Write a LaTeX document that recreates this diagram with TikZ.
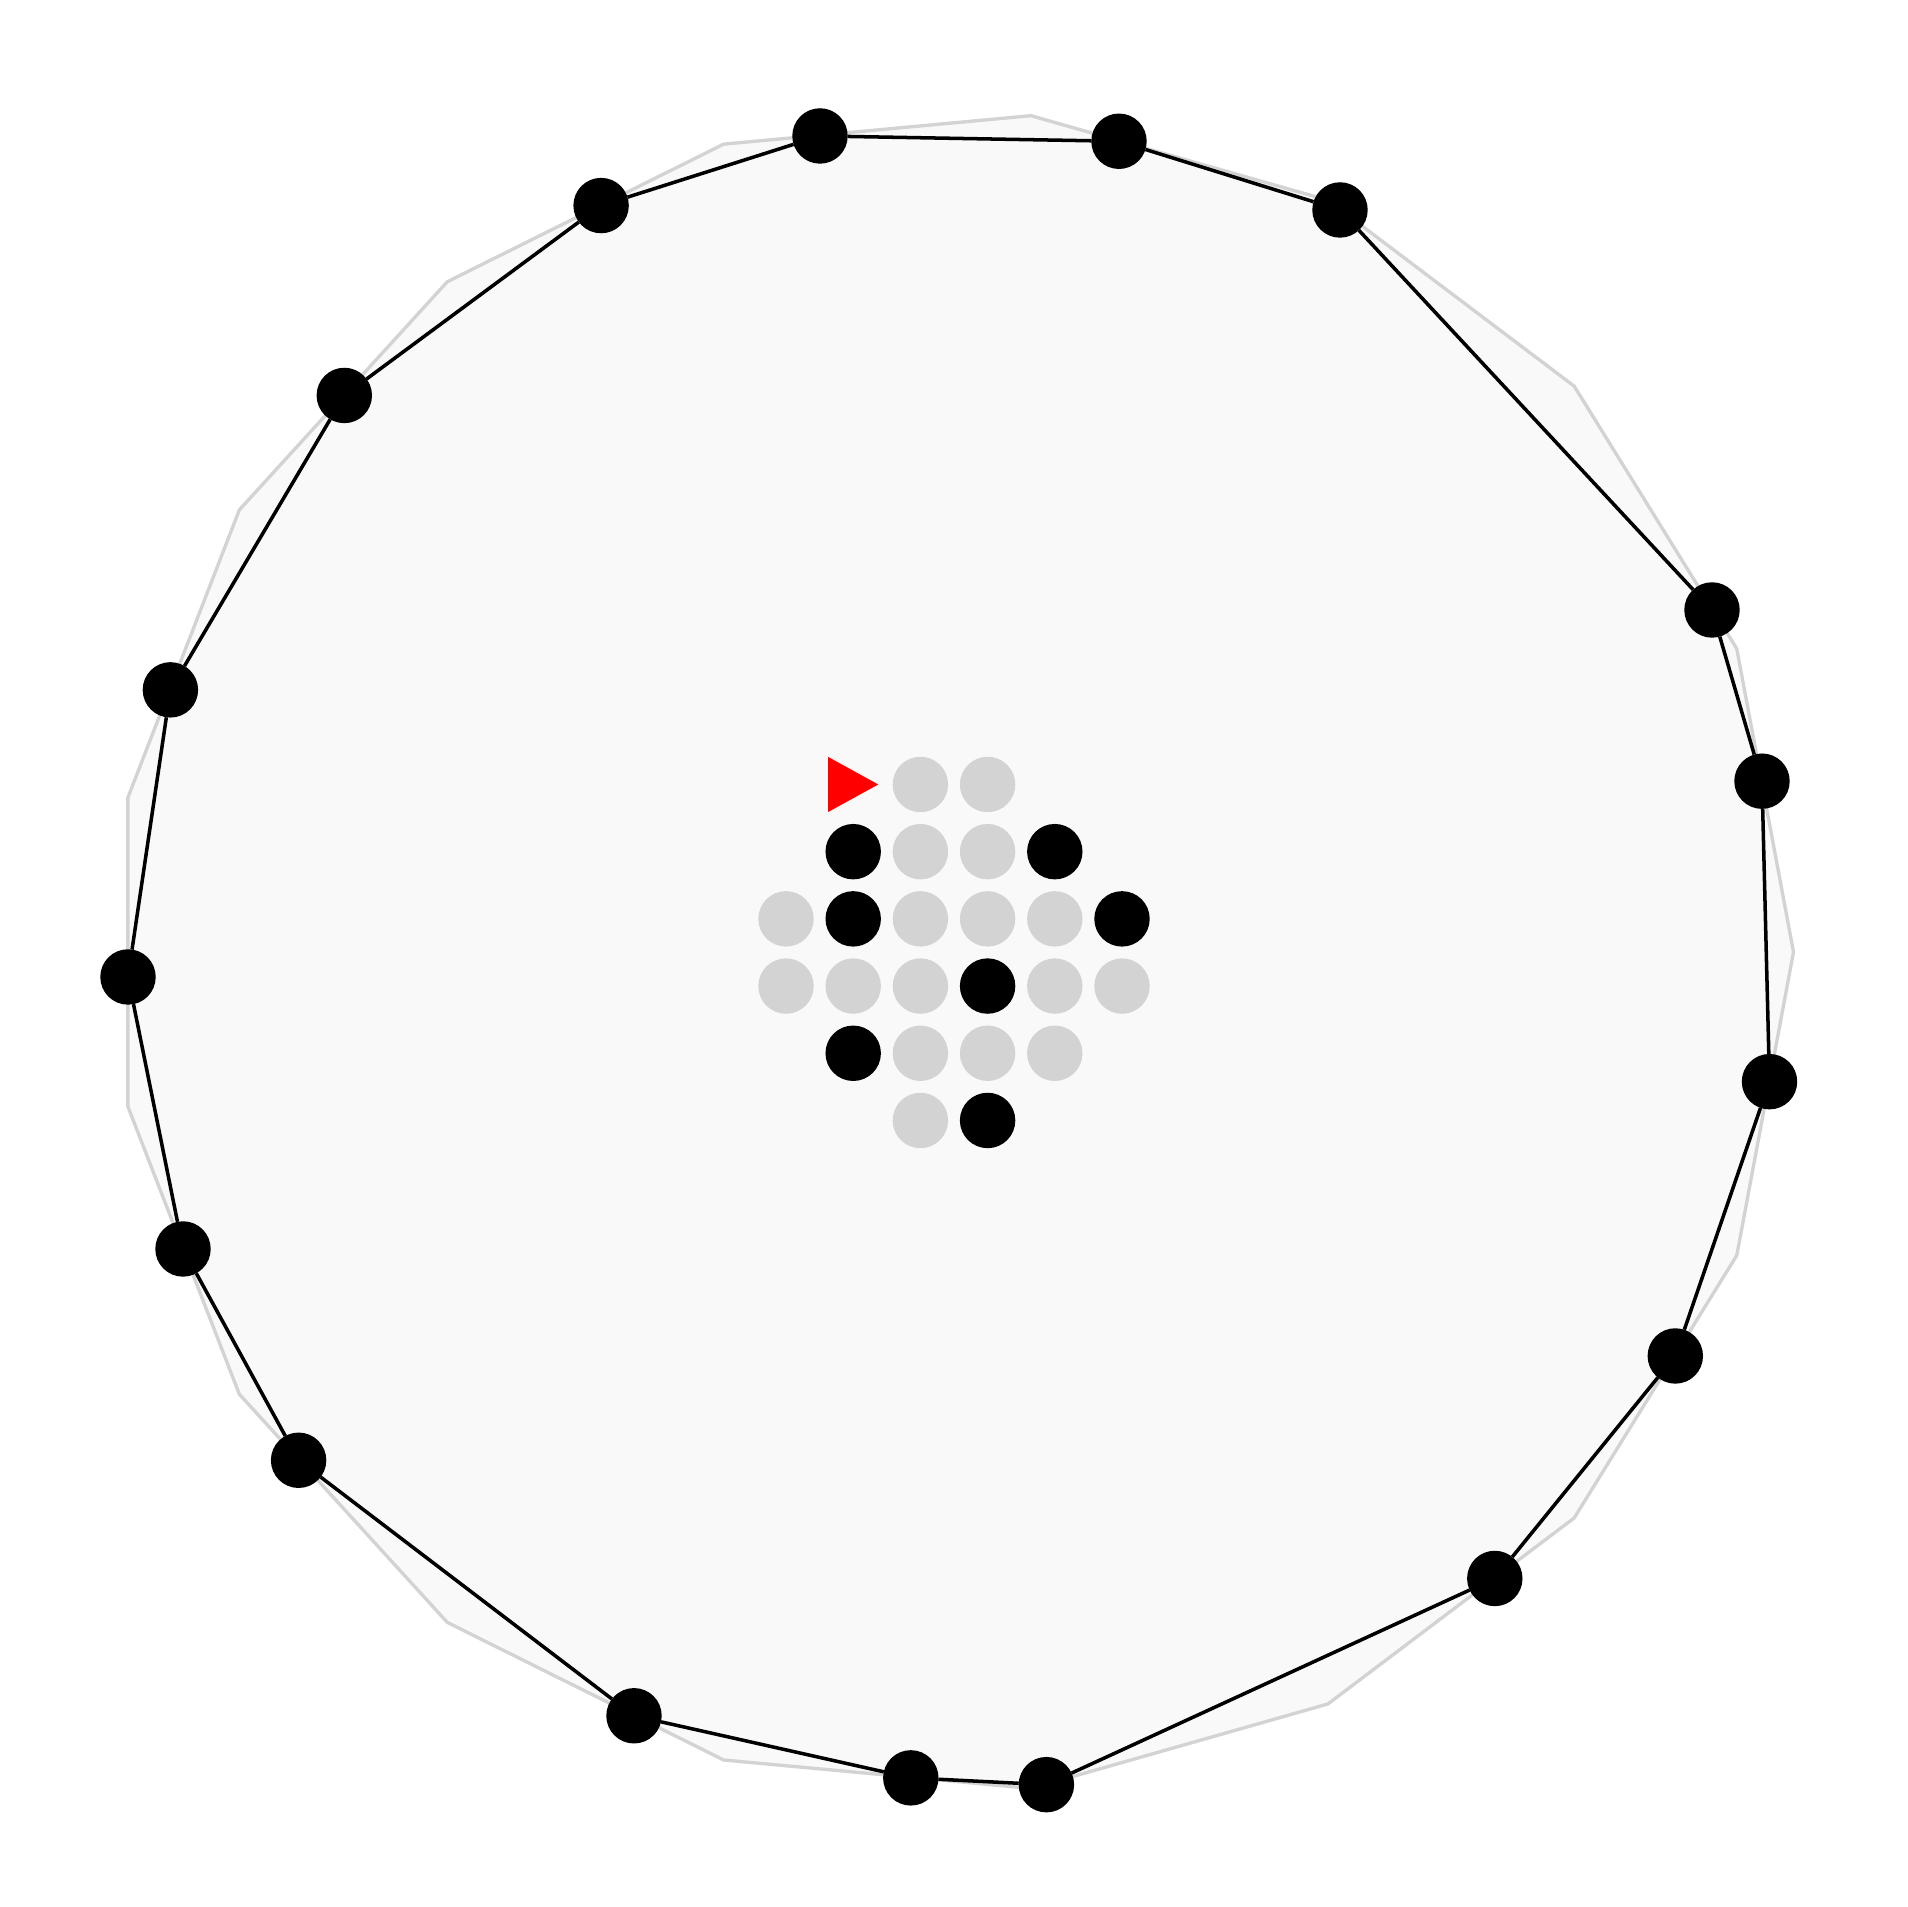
\documentclass[tikz,border=0pt]{standalone}
\usetikzlibrary{positioning}
\definecolor{HullGray}{HTML}{D3D3D3}
\definecolor{HullFill}{HTML}{F9F9F9}
\definecolor{MarkRed}{HTML}{FF0000}
\tikzset{
    hull/.style={
        draw=HullGray,
        fill=HullFill,
        line width=0.95pt,
        line join=miter
    },
    ring/.style={
        draw=black,
        line width=1pt
    },
    vertex/.style={
        circle,
        fill=#1,
        minimum size=0.554cm,
        inner sep=0pt,
        outer sep=0pt
    },
    vertex/.default=black,
    marker/.style={
        fill=MarkRed
    }
}
\begin{document}
\begin{tikzpicture}[x=0.01cm, y=0.01cm]
    \useasboundingbox (0,0) rectangle (1908,1907);
    \coordinate (centre) at (953.5,954.9);

    % Outer hull (regular 17-gon)
    \begin{scope}[shift={(centre)}]
        \draw[hull] (0:840) \foreach \k in {1,...,16} { -- (\k*360/17:840) } -- cycle;
    \end{scope}

    % Ring vertices
    \node[vertex] (v1)  at (820,1771) {};
    \node[vertex] (v2)  at (1119,1765.7) {};
    \node[vertex] (v3)  at (1340,1697) {};
    \node[vertex] (v4)  at (1712,1297) {};
    \node[vertex] (v5)  at (1762,1125.8) {};
    \node[vertex] (v6)  at (1769.5,825.3) {};
    \node[vertex] (v7)  at (1675.3,551) {};
    \node[vertex] (v8)  at (1494.8,328.5) {};
    \node[vertex] (v9)  at (1046.4,122.3) {};
    \node[vertex] (v10) at (910.8,129.1) {};
    \node[vertex] (v11) at (634,191.2) {};
    \node[vertex] (v12) at (298.6,446.7) {};
    \node[vertex] (v13) at (183,658) {};
    \node[vertex] (v14) at (128,930) {};
    \node[vertex] (v15) at (170.4,1217.1) {};
    \node[vertex] (v16) at (344.3,1511.5) {};
    \node[vertex] (v17) at (601.1,1701.4) {};

    % Ring edges
    \draw[ring] (v1) -- (v2) -- (v3) -- (v4) -- (v5) -- (v6) -- (v7) -- (v8) -- (v9)
        -- (v10) -- (v11) -- (v12) -- (v13) -- (v14) -- (v15) -- (v16) -- (v17) -- (v1);

    % Centre grid (row/column/colour)
    \foreach \r/\c/\col in {0/2/HullGray, 0/3/HullGray,
                            1/1/black, 1/2/HullGray, 1/3/HullGray, 1/4/black,
                            2/0/HullGray, 2/1/black, 2/2/HullGray, 2/3/HullGray, 2/4/HullGray, 2/5/black,
                            3/0/HullGray, 3/1/HullGray, 3/2/HullGray, 3/3/black, 3/4/HullGray, 3/5/HullGray,
                            4/1/black, 4/2/HullGray, 4/3/HullGray, 4/4/HullGray,
                            5/2/HullGray, 5/3/black}
        \node[vertex=\col] (cell-\r-\c) at ({786+\c*67.2},{1122.5-\r*67.2}) {};

    % Start marker
    \coordinate (start) at (853.2,1122.5);
    \fill[marker] (start) ++(-25,27.5) -- ++(50,-27.5) -- ++(-50,-27.5) -- cycle;
\end{tikzpicture}
\end{document}
